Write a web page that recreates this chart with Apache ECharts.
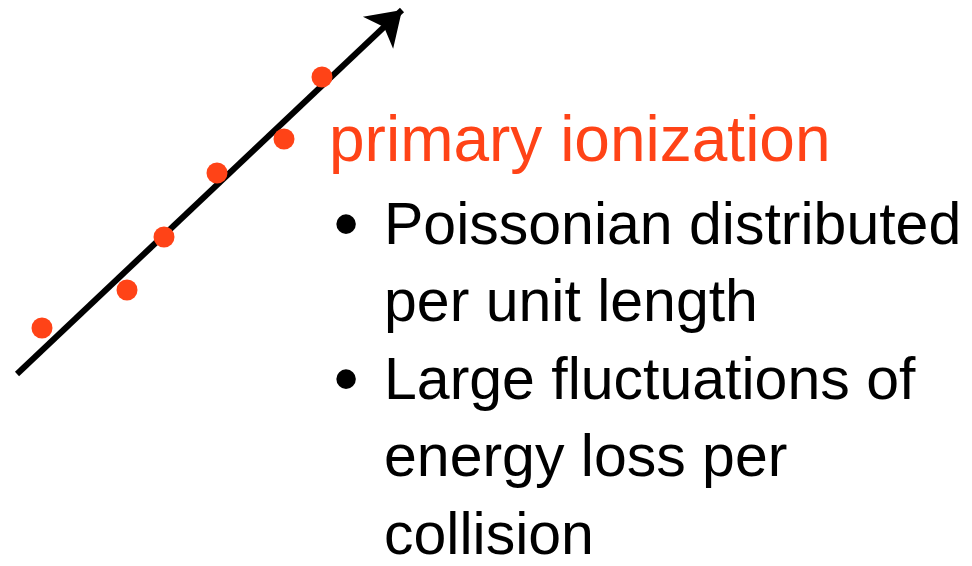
<html>
    <head>
        <meta charset="utf-8">
        <script src="https://cdn.jsdelivr.net/npm/echarts@6/dist/echarts.min.js"></script>
        <style>
            html, body { margin: 0; padding: 0; background: #fff; }
            #main { width: 972px; height: 566px; }
        </style>
    </head>
    <body>
        <div id="main"></div>

        <script>

            // track of the particle (start point, arrow tip), picture units
            var trackStart = [17, 374];
            var trackEnd = [402, 10];

            // primary ionization clusters along the track
            var clusterX = [42, 127, 164, 217, 284, 322];
            var clusterY = [328, 290, 237, 173, 139, 77];

            var heading = 'primary ionization';
            var bullets = [
                ['Poissonian distributed', 'per unit length'],
                ['Large fluctuations of', 'energy loss per', 'collision']
            ];

            var red = '#ff4317';
            var font = '"Liberation Sans", Arial, sans-serif';
            var headSize = 64;
            var bodySize = 59;
            var lineGap = 77.5;

            var chart = echarts.init(document.getElementById('main'));

            var graphics = [{
                type: 'text',
                x: 329,
                y: 111,
                style: {
                    text: heading,
                    fill: red,
                    font: headSize + 'px ' + font,
                    verticalAlign: 'top'
                }
            }];

            var row = 0;
            bullets.forEach(function (lines) {
                graphics.push({
                    type: 'text',
                    x: 346,
                    y: 228 + row * lineGap,
                    style: {
                        text: '\u2022',
                        fill: '#000',
                        font: '72px ' + font,
                        align: 'center',
                        verticalAlign: 'middle'
                    }
                });
                lines.forEach(function (line) {
                    graphics.push({
                        type: 'text',
                        x: 384,
                        y: 198 + row * lineGap,
                        style: {
                            text: line,
                            fill: '#000',
                            font: bodySize + 'px ' + font,
                            verticalAlign: 'top'
                        }
                    });
                    row++;
                });
            });

            chart.setOption({
                animation: false,
                grid: {left: 0, right: 0, top: 0, bottom: 0},
                xAxis: {type: 'value', min: 0, max: 972, show: false},
                yAxis: {type: 'value', min: 0, max: 566, inverse: true, show: false},
                graphic: graphics,
                series: [
                    {
                        type: 'lines',
                        coordinateSystem: 'cartesian2d',
                        symbol: ['none', 'arrow'],
                        symbolSize: 33,
                        lineStyle: {color: '#000', width: 6, opacity: 1},
                        data: [{coords: [trackStart, trackEnd]}],
                        z: 1
                    },
                    {
                        type: 'scatter',
                        symbolSize: 21,
                        itemStyle: {color: red, opacity: 1},
                        data: clusterX.map(function (x, i) {
                            return [x, clusterY[i]];
                        }),
                        z: 2
                    }
                ]
            });

        </script>
    </body>
</html>
